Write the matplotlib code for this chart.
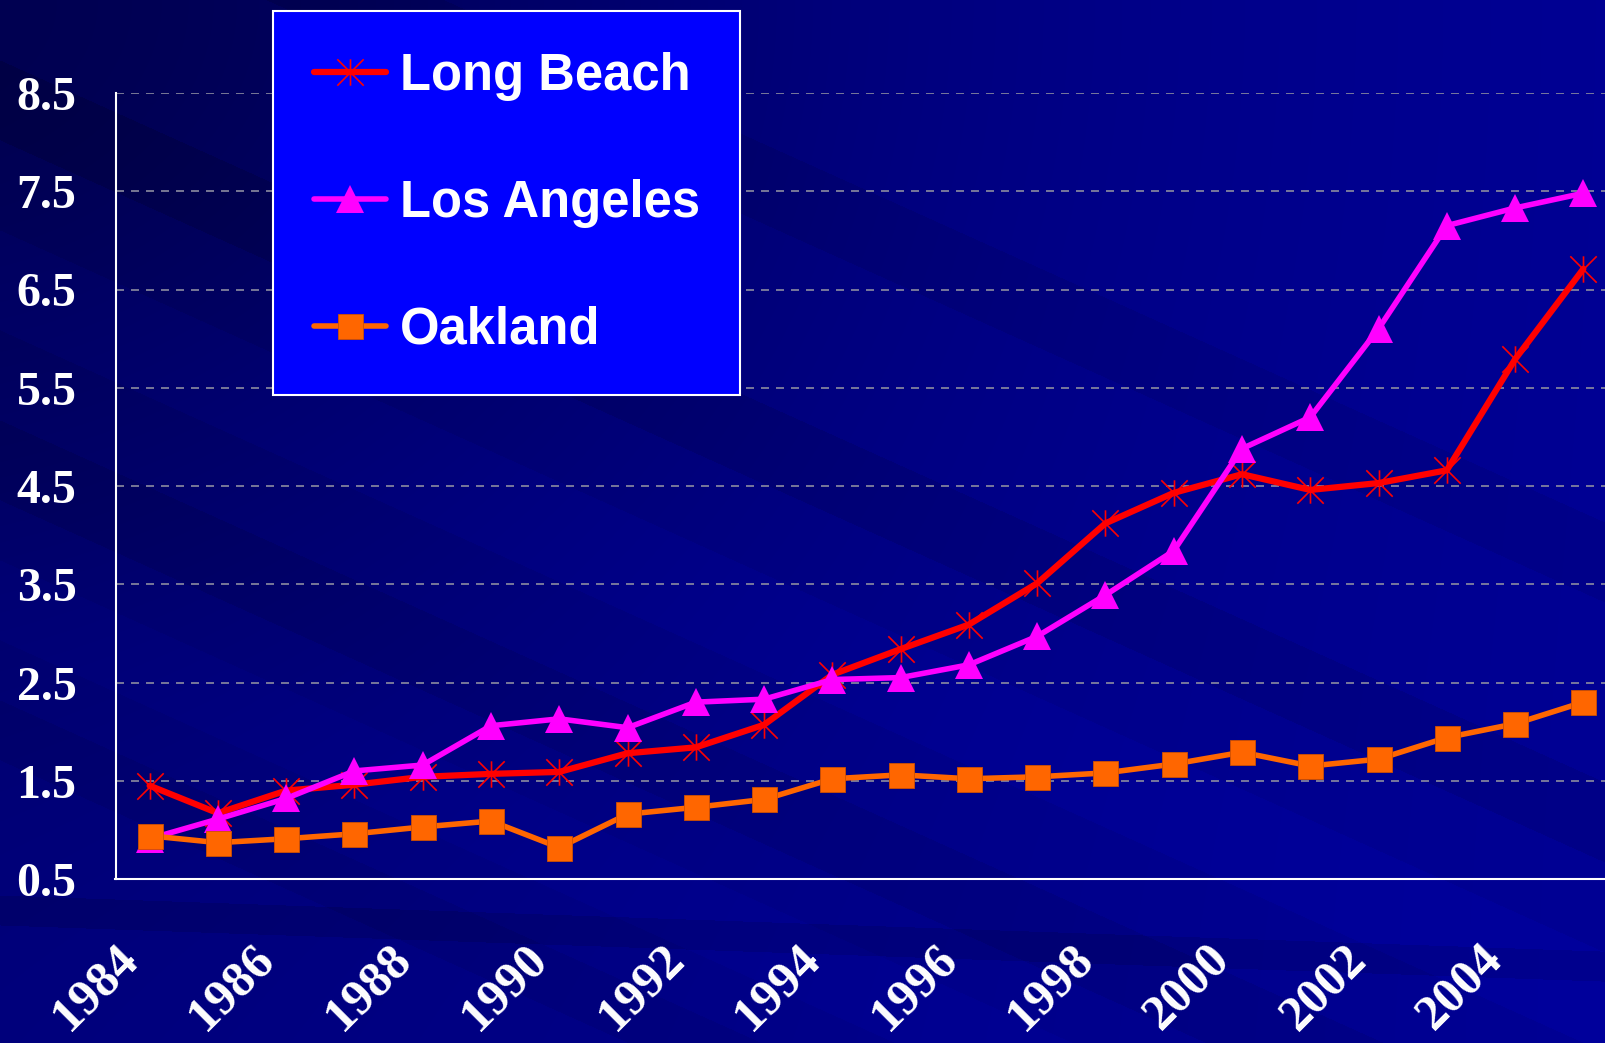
import numpy as np
import matplotlib
matplotlib.use("Agg")
import matplotlib.pyplot as plt
from matplotlib.path import Path
from matplotlib.transforms import ScaledTranslation

# data
years = list(range(1984, 2006))
long_beach = [1.45, 1.17, 1.40, 1.46, 1.54, 1.57, 1.59, 1.78, 1.84, 2.07, 2.58,
              2.84, 3.09, 3.51, 4.12, 4.43, 4.62, 4.46, 4.53, 4.66, 5.79, 6.71]
los_angeles = [0.91, 1.11, 1.32, 1.60, 1.66, 2.06, 2.13, 2.04, 2.30, 2.33, 2.53,
               2.55, 2.68, 2.97, 3.39, 3.84, 4.88, 5.20, 6.10, 7.15, 7.33, 7.48]
oakland = [0.94, 0.87, 0.91, 0.96, 1.03, 1.09, 0.82, 1.16, 1.23, 1.31, 1.52,
           1.56, 1.52, 1.54, 1.58, 1.67, 1.79, 1.65, 1.72, 1.94, 2.08, 2.30]
series_names = ["Long Beach", "Los Angeles", "Oakland"]
y_ticks = [0.5, 1.5, 2.5, 3.5, 4.5, 5.5, 6.5, 7.5, 8.5]
year_labels = [str(y) for y in years[::2]]

W, H = 1605, 1043
fig = plt.figure(figsize=(W / 100, H / 100), dpi=100)
fig.patch.set_facecolor("#000080")

# slide background: navy with diagonal streaks
bg = fig.add_axes([0, 0, 1, 1], zorder=0)
yy, xx = np.mgrid[0:H, 0:W]
blue = 126 + 22 * (xx / W) - 45 * np.exp(-((xx / W) ** 2 * 4 + (yy / H) ** 2 * 3))
u = yy - 0.45 * xx
for lo, hi, d in [(-200, -120, -10), (60, 140, -12), (230, 330, 8), (420, 500, -10),
                  (560, 640, 6), (700, 760, -8)]:
    blue = blue + d * ((u > lo) & (u < hi))
v = yy - 0.035 * xx
blue = blue - 14 * ((v > 895) & (v < 925))
blue = np.clip(blue, 60, 170)
img = np.zeros((H, W, 3))
img[..., 2] = blue / 255
bg.imshow(img, aspect="auto", interpolation="bilinear")
bg.set_axis_off()

ax = fig.add_axes([115.5 / W, 1 - 879 / H, 1502 / W, 786 / H], zorder=1)
ax.patch.set_visible(False)

x = np.arange(len(years))
star = Path([(0, -1), (0, 1), (-1, -1), (1, 1), (-1, 1), (1, -1)],
            [Path.MOVETO, Path.LINETO] * 3)

l1, = ax.plot(x, long_beach, color="#FF0000", lw=4.5, marker=star, ms=19,
              mec="#FF0000", mfc="none", mew=1.2, solid_capstyle="round",
              label=series_names[0], zorder=3)
l2, = ax.plot(x, los_angeles, color="#FF00FF", lw=4, marker="^", ms=19.5,
              mec="#FF00FF", mew=0, solid_capstyle="round",
              label=series_names[1], zorder=4)
l3, = ax.plot(x, oakland, color="#FF6600", lw=4, marker="s", ms=18,
              mec="#D05000", mew=0.6, solid_capstyle="round",
              label=series_names[2], zorder=5)

ax.set_xlim(-0.5, len(years) - 0.5)
ax.set_ylim(0.5, 8.5)
ax.set_yticks(y_ticks)
ax.set_yticklabels([f"{t:.1f}" for t in y_ticks])
ax.set_xticks(x[::2])
ax.set_xticklabels(year_labels, rotation=45, ha="right", va="top")

ax.yaxis.grid(True, color="#8c8ca0", linestyle=(0, (4.8, 4.2)), lw=1.2)
ax.set_axisbelow(True)
for s in ["top", "right"]:
    ax.spines[s].set_visible(False)
for s in ["left", "bottom"]:
    ax.spines[s].set_color("white")
    ax.spines[s].set_linewidth(1.5)

ax.tick_params(axis="both", length=0, colors="white")
ax.tick_params(axis="y", pad=28)
ax.tick_params(axis="x", pad=41)
for lab in ax.get_yticklabels():
    lab.set_fontsize(34.5)
    lab.set_fontfamily("Liberation Serif")
    lab.set_fontweight("bold")
for lab in ax.get_xticklabels():
    lab.set_fontsize(36)
    lab.set_fontfamily("Liberation Serif")
    lab.set_fontweight("bold")
    lab.set_transform(lab.get_transform() + ScaledTranslation(-0.03, 0, fig.dpi_scale_trans))

leg = fig.legend(handles=[l1, l2, l3], loc="upper left",
                 bbox_to_anchor=(273 / W, 1 - 11 / H), borderaxespad=0,
                 prop=dict(family="Liberation Sans", weight="bold", size=36.5),
                 handlelength=1.42, handletextpad=0.28, borderpad=0.8,
                 labelspacing=1.54, fancybox=False, framealpha=1)
leg.get_frame().set_facecolor("#0000FF")
leg.get_frame().set_edgecolor("white")
leg.get_frame().set_linewidth(1.5)
for t in leg.get_texts():
    t.set_color("white")

fig.savefig("out.png", dpi=100, facecolor=fig.get_facecolor())
